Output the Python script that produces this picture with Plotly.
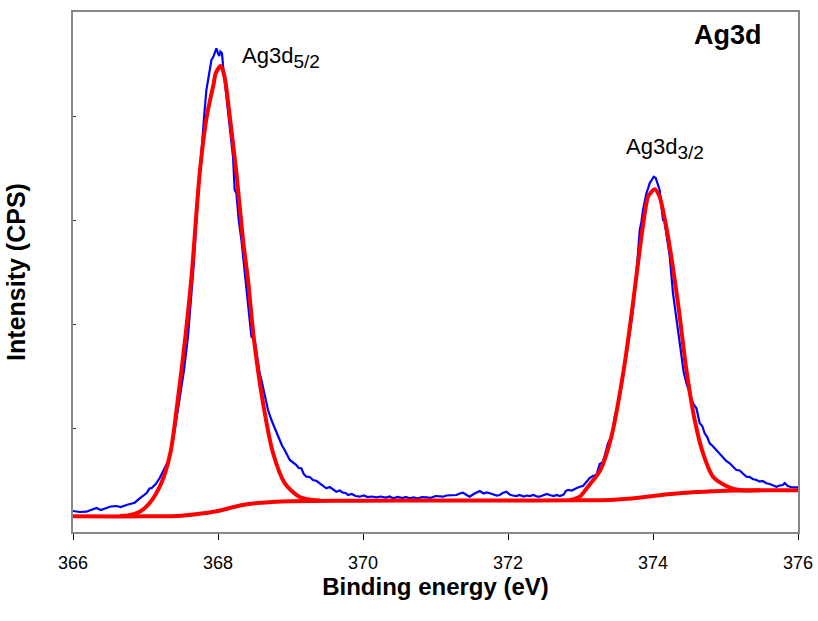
import plotly.graph_objects as go

# ---- measured spectrum (blue) ----
blue_ev = [
    366.000, 366.092, 366.185, 366.258, 366.323, 366.382, 366.461, 366.520, 366.599, 366.658,
    366.737, 366.796, 366.851, 366.920, 367.012, 367.058, 367.086, 367.141, 367.196, 367.265,
    367.334, 367.403, 367.472, 367.531, 367.586, 367.623, 367.665, 367.706, 367.748, 367.785,
    367.810, 367.840, 367.862, 367.886, 367.909, 367.934, 367.954, 367.978, 368.000, 368.017,
    368.033, 368.055, 368.069, 368.106, 368.138, 368.161, 368.207, 368.230, 368.254, 368.286,
    368.323, 368.348, 368.368, 368.414, 368.461, 368.506, 368.541, 368.575, 368.599, 368.644,
    368.690, 368.737, 368.768, 368.806, 368.851, 368.886, 368.920, 368.990, 369.031, 369.081,
    369.113, 369.150, 369.182, 369.219, 369.265, 369.310, 369.361, 369.403, 369.444, 369.495,
    369.541, 369.582, 369.633, 369.679, 369.724, 369.761, 369.793, 369.844, 369.899, 369.954,
    370.010, 370.065, 370.120, 370.185, 370.244, 370.313, 370.368, 370.414, 370.479, 370.548,
    370.589, 370.644, 370.699, 370.754, 370.810, 370.874, 370.934, 371.003, 371.058, 371.103,
    371.154, 371.241, 371.288, 371.334, 371.379, 371.430, 371.472, 371.527, 371.568, 371.610,
    371.665, 371.706, 371.748, 371.803, 371.844, 371.886, 371.927, 371.978, 372.023, 372.065,
    372.116, 372.161, 372.217, 372.258, 372.299, 372.354, 372.396, 372.437, 372.492, 372.534,
    372.575, 372.630, 372.672, 372.713, 372.768, 372.796, 372.828, 372.879, 372.943, 372.989,
    373.034, 373.072, 373.127, 373.168, 373.219, 373.265, 373.310, 373.379, 373.430, 373.472,
    373.514, 373.541, 373.583, 373.633, 373.679, 373.724, 373.761, 373.793, 373.817, 373.840,
    373.862, 373.886, 373.909, 373.934, 373.954, 373.982, 374.010, 374.037, 374.055, 374.092,
    374.138, 374.161, 374.189, 374.230, 374.276, 374.323, 374.345, 374.368, 374.392, 374.423,
    374.461, 374.506, 374.552, 374.599, 374.623, 374.644, 374.679, 374.713, 374.748, 374.782,
    374.823, 374.874, 374.920, 374.966, 375.010, 375.058, 375.100, 375.150, 375.196, 375.237,
    375.288, 375.334, 375.375, 375.426, 375.472, 375.513, 375.564, 375.610, 375.651, 375.702,
    375.748, 375.789, 375.817, 375.858, 375.899, 375.954, 376.000,
]
blue_cps = [
    2019, 1923, 1952, 2163, 2308, 2115, 2279, 2452, 2500, 2404,
    2596, 2740, 2817, 3240, 3721, 4202, 4231, 4615, 5192, 6154,
    7115, 9807, 12980, 15576, 18778, 22018, 25672, 30480, 34614, 38653,
    40095, 42498, 43460, 44614, 45383, 45671, 46027, 46508, 46027, 45767,
    46181, 46027, 44902, 42691, 40893, 38970, 36086, 32883, 32566, 29999,
    28076, 26345, 24999, 21990, 18778, 18461, 16826, 15259, 14615, 13009,
    11730, 10769, 10192, 9490, 8846, 8269, 7884, 6923, 6731, 6442,
    6154, 6125, 5577, 5317, 5288, 5000, 4904, 4683, 4519, 4202,
    4327, 4086, 3875, 3990, 3779, 3750, 3558, 3654, 3461, 3394,
    3509, 3365, 3413, 3336, 3413, 3317, 3413, 3240, 3365, 3269,
    3365, 3240, 3317, 3221, 3365, 3336, 3288, 3461, 3394, 3394,
    3509, 3558, 3558, 3702, 3779, 3558, 3394, 3654, 3798, 3942,
    3702, 3798, 3721, 3606, 3509, 3558, 3750, 3875, 3606, 3509,
    3461, 3558, 3413, 3509, 3461, 3558, 3413, 3394, 3509, 3654,
    3558, 3461, 3558, 3461, 3606, 3942, 4038, 3990, 4202, 4356,
    4423, 4711, 5192, 5384, 5481, 6538, 6731, 8528, 9230, 11086,
    12211, 13009, 14807, 16855, 19134, 21345, 23941, 26797, 29037, 29807,
    30960, 31922, 32566, 33076, 33528, 33845, 34163, 34037, 33682, 32883,
    29999, 29807, 28460, 26537, 22951, 20384, 19326, 17980, 16855, 15384,
    14297, 13269, 12374, 11894, 10961, 10452, 10192, 9490, 9134, 8528,
    8269, 7884, 7500, 7240, 6827, 6606, 6346, 5961, 5913, 5625,
    5317, 5288, 5096, 5000, 4856, 4904, 4683, 4615, 4519, 4356,
    4471, 4519, 4711, 4423, 4327, 4327, 4298,
]

# ---- Shirley background (red) ----
bg_ev = [366.0, 367.0, 367.5, 367.8, 368.0, 368.2, 368.4, 368.6, 368.8, 369.0,
         370.0, 371.0, 372.0, 373.0, 373.4, 373.6, 373.8, 374.0, 374.2, 374.4,
         374.6, 374.8, 375.0, 375.5, 376.0]
bg_cps = [1510, 1510, 1567, 1798, 2019, 2375, 2663, 2817, 2913, 2952,
          3010, 3029, 3029, 3048, 3077, 3173, 3298, 3461, 3625, 3750,
          3846, 3913, 3971, 4009, 4009]

# ---- fitted Ag3d5/2 component (red) ----
p1_ev = [366.644, 366.754, 366.920, 367.058, 367.219, 367.343, 367.440, 367.550, 367.637,
         367.748, 367.844, 367.941, 367.968, 368.037, 368.079, 368.106, 368.147, 368.254,
         368.345, 368.414, 368.492, 368.621, 368.759, 368.920, 369.127, 369.403]
p1_cps = [1538, 1586, 1952, 2788, 4711, 7596, 12403, 18749, 24711,
          34518, 39902, 43142, 44104, 44806, 44104, 43142, 40864, 34518,
          28076, 24230, 18749, 12403, 7596, 4711, 3365, 3029]

# ---- fitted Ag3d3/2 component (red) ----
p2_ev = [372.851, 372.989, 373.103, 373.274, 373.426, 373.596, 373.724, 373.840, 373.909,
         373.931, 374.023, 374.092, 374.116, 374.207, 374.345, 374.461, 374.575, 374.690,
         374.828, 375.034, 375.196, 375.472]
p2_cps = [3048, 3394, 4356, 5961, 9163, 15576, 21990, 28393, 31605,
          32239, 32951, 32239, 31605, 28393, 21990, 15576, 10769, 7567,
          5317, 4356, 4038, 4009]

x_ticks = [366, 368, 370, 372, 374, 376]

FONT = "Arial, Liberation Sans, sans-serif"
RED = "rgb(255,0,0)"
BLUE = "rgb(0,0,255)"

fig = go.Figure()
fig.add_trace(go.Scatter(x=blue_ev, y=blue_cps, mode="lines",
                         line=dict(color=BLUE, width=2.2), showlegend=False))
fig.add_trace(go.Scatter(x=bg_ev, y=bg_cps, mode="lines",
                         line=dict(color=RED, width=4, shape="spline"), showlegend=False))
fig.add_trace(go.Scatter(x=p1_ev, y=p1_cps, mode="lines",
                         line=dict(color=RED, width=4, shape="spline", smoothing=0.8),
                         showlegend=False))
fig.add_trace(go.Scatter(x=p2_ev, y=p2_cps, mode="lines",
                         line=dict(color=RED, width=4, shape="spline", smoothing=0.8),
                         showlegend=False))

fig.add_annotation(x=368.30, y=45600, xref="x", yref="y", xanchor="left", yanchor="middle",
                   text='Ag3d<sub><span style="font-size:19px">5/2</span></sub>',
                   showarrow=False, font=dict(family=FONT, size=22, color="black"))
fig.add_annotation(x=374.16, y=36850, xref="x", yref="y", xanchor="center", yanchor="middle",
                   text='Ag3d<sub><span style="font-size:19px">3/2</span></sub>',
                   showarrow=False, font=dict(family=FONT, size=22, color="black"))
fig.add_annotation(x=375.03, y=47800, xref="x", yref="y", xanchor="center", yanchor="middle",
                   text="<b>Ag3d</b>", showarrow=False,
                   font=dict(family=FONT, size=27, color="black"))

fig.update_layout(
    width=818, height=621,
    margin=dict(l=73, r=20, t=12, b=89, autoexpand=False),
    paper_bgcolor="white", plot_bgcolor="white",
    font=dict(family=FONT, color="black"),
    xaxis=dict(
        range=[366, 376], tickvals=x_ticks, ticktext=[str(v) for v in x_ticks],
        ticks="outside", ticklen=6, tickwidth=1, tickcolor="black",
        tickfont=dict(size=18, family=FONT, color="black"),
        ticklabelstandoff=7,
        showline=True, linecolor="#888888", linewidth=2, mirror=True,
        showgrid=False, zeroline=False, automargin=False,
        title=dict(text="<b>Binding energy (eV)</b>", font=dict(size=24, family=FONT),
                   standoff=5),
    ),
    yaxis=dict(
        range=[0, 50000], dtick=10000, tick0=0,
        ticks="inside", ticklen=3, tickwidth=1, tickcolor="#333333",
        showticklabels=False,
        showline=True, linecolor="#888888", linewidth=2, mirror=True,
        showgrid=False, zeroline=False, automargin=False,
        title=dict(text="<b>Intensity (CPS)</b>", font=dict(size=25, family=FONT),
                   standoff=38),
    ),
)

fig.write_html("out.html", config={"displayModeBar": False},
               post_script="document.body.style.margin='0px';")
